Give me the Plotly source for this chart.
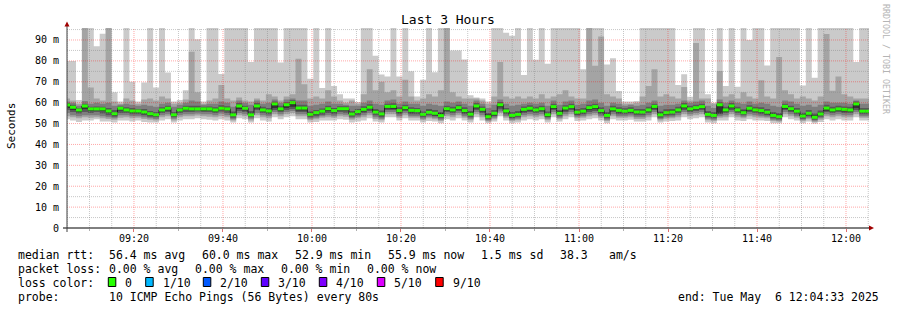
import pandas as pd
import plotly.graph_objects as go

# ---------------- data ----------------
# 136 steps of 80 s, starting 09:04:18
median = [58.9,57.8,56.5,58.4,57.0,57.0,57.0,56.0,54.7,57.3,
          56.5,56.0,56.0,55.5,54.7,54.2,56.5,57.3,54.2,56.5,
          57.3,57.0,57.0,57.0,57.0,56.5,57.3,57.0,54.2,58.4,
          57.3,54.2,58.4,56.5,56.0,59.4,57.0,59.0,60.0,57.4,
          57.4,54.4,55.2,55.9,57.1,56.2,57.1,57.1,54.6,55.7,
          56.8,57.8,55.5,54.6,58.2,58.2,56.2,57.6,56.3,56.2,
          54.4,55.4,54.9,53.8,57.1,56.5,57.6,56.2,54.5,58.4,
          56.8,53.3,54.9,59.0,56.0,53.9,54.4,56.8,57.3,56.5,
          57.1,54.2,58.1,54.9,57.4,58.1,55.4,55.9,57.6,58.1,
          56.2,53.9,57.0,56.3,55.9,56.3,55.5,55.5,56.5,58.2,
          54.2,55.2,55.5,56.5,58.4,57.0,57.6,58.1,54.4,53.9,
          59.0,56.5,58.4,56.5,55.2,57.3,56.5,56.2,55.4,53.9,
          53.3,58.2,57.1,55.9,53.6,54.9,53.0,54.6,57.4,56.5,
          57.0,56.8,56.5,59.4,55.9,55.9]
mid2 = [57.5,56.5,55.5,57,56,56.3,56,55,53.8,56.2,
        55.8,55,55.2,54.5,53.8,53.5,55.8,56.3,53.5,55.8,
        56.5,56.2,56.5,56,56.3,55.7,56.5,56.2,55.2,57,
        56.3,55.2,57.2,55.8,55.2,57.5,56,57.5,58,56.3,
        56.3,55.3,54.3,55,56,55.3,56.2,56.3,55.5,54.8,
        55.8,56.8,56.5,53.8,57.2,57,55.2,56.6,55.3,55.5,
        53.6,56.3,53.8,55,56,55.6,56.6,55.2,55.5,57.2,
        55.8,54.3,53.9,57.8,55,53,55.3,55.8,56.2,55.6,
        56.2,53.3,57,56,56.3,57.2,54.5,54.9,56.5,57,
        55.2,54.8,56,55.3,55,55.3,54.6,56.3,55.6,57.2,
        55.3,54.3,56.4,55.6,57.3,56,56.6,57.2,55.3,54.8,
        54.8,55.5,57.3,55.6,56.2,56.2,55.6,55.3,54.5,54.8,
        54.2,57.1,56.1,55,54.5,54,54,55.4,56.1,55.5,
        56,55.8,55.6,57.5,55,55]
p7 = [59.8,59,57.5,59.5,58,58.2,58,57.5,56.5,58.2,
      57.8,57.5,57,57,56,55.5,57.8,58.5,55.5,57.5,
      58.5,58.5,58.5,58,58.2,57.8,58.8,58.3,55.8,59.8,
      58.5,56,59.8,58,57.5,60.5,58.5,60.2,61.2,59,
      59,55.8,56.5,57.2,58.5,57.5,58.3,58.3,56,57,
      58.3,59.2,57,56.2,59.5,59.7,57.8,59,57.8,57.5,
      55.8,57,56.5,55.5,58.5,58,59,57.8,56,59.8,
      58.2,55,56.5,60.3,57.5,55.5,56,58.2,58.8,58,
      58.5,55.8,59.5,56.5,58.8,59.5,57,57.5,59,59.5,
      57.8,55.5,58.5,57.8,57.3,57.8,57,57,58,59.5,
      55.8,56.8,57,58,59.8,58.5,59,59.5,56,55.5,
      60.2,58,59.8,58,56.8,58.8,58,57.8,57,55.5,
      55,59.5,58.5,57.5,55.2,56.5,54.8,56.2,59,58,
      58.5,58.2,58,60.5,57.5,57.5]
p4 = [56.5,55.5,54.8,55.5,55,55.5,54.8,54,53.2,55,
      55,54.5,54.5,54,53.2,53,55,55.5,53,55,
      55.5,55.5,55.8,55.5,55.5,55,55.8,55,52.8,56,
      55.5,53,56.5,55,54.5,56.5,55.5,56.5,57,55.5,
      55.5,53,53.5,54.2,55,54.5,55.5,55.2,53.2,54,
      55,56,54,53,56.5,56.5,54.5,56,54.5,54.5,
      53,54,53.5,52.5,55.5,55,56,54.5,53,56.5,
      55,52,53.5,56.8,54.5,52.5,53,55,55.5,55,
      55.5,53,56.5,53.5,55.5,56.5,54,54.5,55.5,56,
      54.5,52.5,55.5,54.5,54.5,54.8,54,54,55,56.5,
      52.8,53.8,54,55,56.5,55.5,56,56.5,53,52.5,
      54.5,55,56.5,55,54,55.5,55,54.5,54,52.5,
      52,56.5,55.5,54.5,52.3,53.5,51.8,53.2,55.5,55,
      55.5,55,55,56.5,54.5,54.5]
p8 = [60.5,60,58.5,60.8,59.5,60,59.5,60,58.5,59,
      59.5,59,58.5,59,58.5,58,59.5,60,58,59,
      60,61,60.5,59,59.5,59.5,60.5,60,58,61,
      60,59,61,59.5,60,61.5,60,61.5,62,61,
      61,58.5,59,59.5,60.5,59.5,59.5,59,58.5,58.5,
      60,61,59.5,59,61,61.5,59.5,60.5,59.5,59.5,
      58.5,59.5,59,58.5,60.5,60,60.5,59.5,58.5,61,
      59.5,57.5,59,61.5,59.5,58.5,59,59.5,60,59.5,
      60,58.5,61,59,60.5,61,59,59.5,61,61.5,
      60,58.5,60,59.5,58.5,59,58.5,59,60,61,
      58.5,59,59,59.5,61,60,60.5,61,58.5,57.5,
      61.5,60,61,60,59.5,60.5,59.5,60,59.5,58.5,
      58,61,60.5,59.5,58.5,59,58,59,60.5,60,
      60,60,59.5,61,59.5,59.5]
p3 = [55,54,53.5,54,54,54,53.5,53,52.5,54,
      54,53.5,53.5,53,52.5,52.2,54,54.5,52.3,54,
      54.5,54.5,54.8,54.5,54.5,54,54.8,54,52,55,
      54.5,52.3,55,54,53.5,55.5,54.5,55.5,56,54.5,
      54.5,52.3,52.8,53.5,54,53.5,54.5,54.2,52.5,53.2,
      54,55,53,52.3,55.5,55.5,53.5,55,53.5,53.5,
      52.3,53.2,52.8,51.8,54.5,54,55,53.5,52.3,55.5,
      54,51.5,52.8,55.8,53.5,51.8,52.3,54,54.5,54,
      54.5,52.3,55.5,52.8,54.5,55.5,53.2,53.5,54.5,55,
      53.5,51.8,54.5,53.5,53.5,53.8,53,53,54,55.5,
      52.2,53,53.2,54,55.5,54.5,55,55.5,52.3,51.8,
      53.5,54,55.5,54,53.2,54.5,54,53.5,53.2,51.8,
      51.5,55.5,54.5,53.5,51.8,52.8,51.3,52.5,54.5,54,
      54.5,54,54,55.5,53.5,53.5]
p9 = [62,61,59.5,100,67.3,62,61,100,60.5,59.5,
      62,61,59.5,61.5,62,61,63,62,59.5,60,
      61.5,84.4,65,59.5,61,62,68.5,62,61,62.5,
      61,60.5,62,61,64,63,61,63,64,81,
      68.8,62,63,62,66,63,61,60,61,59.5,
      64,76,66,70,65,66,63,71,63,61,
      62,64,63,66,100,65,63,62,62,62,
      61,59.5,63,79.5,63,62,63,62,63,62,
      64,62,63,64,66,63,62,62,100,77.7,
      91.7,64,63,62,59.5,59.5,60,63,68,76,
      63,64,63,62,67.5,61,88.5,62,62,59.5,
      75.1,63,64,62,65,63,62,70.7,63,62,
      81.8,66,64,62,63,62,61,63,92.9,65.7,
      72.5,64,63,62,62,62]
p2 = [53.5,53,52.5,53,52.8,53,52.5,52.2,51.8,52.8,
      53,52.5,52.8,52.2,51.8,51.5,53,53.5,51.5,53,
      53.5,53.5,53.8,53.5,53.2,53,53.5,53,51.5,54,
      53.5,51.5,54,53,52.5,54.5,53.5,54.5,55,53.5,
      53.5,51.6,52,52.8,53,52.8,53.5,53.2,51.8,52.5,
      53,54,52.2,51.6,54.5,54.5,52.8,54,52.8,52.8,
      51.6,52.5,52,51.2,53.5,53,54,52.8,51.6,54.5,
      53,51,52,55,52.8,51.2,51.6,53,53.5,53,
      53.5,51.6,54.5,52,53.5,54.5,52.5,52.8,53.5,54,
      52.8,51.2,53.5,52.8,52.8,53,52.2,52.2,53,54.5,
      51.5,52.3,52.5,53,54.5,53.5,54,54.5,51.6,51.2,
      52.8,53,54.5,53,52.5,53.5,53,52.8,52.5,51.2,
      51,54.5,53.5,52.8,51.2,52,50.8,51.8,53.5,53,
      53.5,53,53,54.5,52.8,52.8]
p1 = [52,51.5,50.8,51.5,51.5,52,51,51,50.5,51.5,
      51.5,51,51.5,50.8,50.5,50.5,51.5,52,50.5,51.5,
      52,52,52.5,52,51.8,51.5,52,51.5,50.5,52.5,
      52,50.5,52.5,51.5,51,53,52,53,53.5,52,
      52,50.5,50.8,51.5,51.5,51.5,52,51.8,50.5,51,
      51.5,52.5,51,50.5,53,53,51.5,52.5,51.5,51.5,
      50.5,51.2,51,50.2,52,51.5,52.5,51.5,50.5,53,
      51.5,50.2,51,53.5,51.5,50.2,50.5,51.5,52,51.5,
      52,50.5,53,51,52,53,51.2,51.5,52,52.5,
      51.5,50.2,52,51.5,51.5,51.8,51,51,51.5,53,
      50.5,51,51.2,51.5,53,52,52.5,53,50.5,50.2,
      51.5,51.5,53,51.5,51.2,52,51.5,51.5,51.2,50.2,
      50.2,53,52,51.5,50.2,51,50,50.8,52,51.5,
      52,51.5,51.5,53,51.5,51.5]
p10 = [80,80,61.3,100,100,87,93,100,65,60.5,
       100,70,60.5,69.6,100,67.3,100,74.4,60.5,61.3,
       66,100,90.3,60.5,100,100,73.7,100,100,100,
       100,79.5,100,100,100,100,79.2,100,100,100,
       100,71.5,100,67,100,68,64,62,62,60.3,
       100,100,82.5,73.5,72.5,100,72.5,100,75,63,
       71,100,74.6,100,100,85,85,80.7,63.5,62.5,
       62,60.5,100,100,93.5,92,100,73.3,100,80.5,
       100,78.6,100,100,100,100,100,76,100,100,
       100,78.3,81.3,65.6,60.5,60.5,60.8,100,100,100,
       100,100,100,68.4,73.6,62.8,100,100,64,60,
       100,68,100,67.6,100,90,100,100,77.8,100,
       100,100,100,100,68.2,100,71.9,100,100,100,
       100,100,100,79.5,100,100]

y_ticks = [0, 10, 20, 30, 40, 50, 60, 70, 80, 90]
y_tick_text = ["0", "10 m", "20 m", "30 m", "40 m", "50 m", "60 m", "70 m", "80 m", "90 m"]
x_ticks = ["2025-05-06 09:20", "2025-05-06 09:40", "2025-05-06 10:00", "2025-05-06 10:20",
           "2025-05-06 10:40", "2025-05-06 11:00", "2025-05-06 11:20", "2025-05-06 11:40",
           "2025-05-06 12:00"]
x_tick_text = ["09:20", "09:40", "10:00", "10:20", "10:40", "11:00", "11:20", "11:40", "12:00"]

loss_labels = ["0", "1/10", "2/10", "3/10", "4/10", "5/10", "9/10"]
loss_colors = ["#26ff00", "#00b8ff", "#0059ff", "#5e00ff", "#7e00ff", "#dd00ff", "#ff0000"]

# ---------------- geometry ----------------
W, H = 897, 310
L, R, T, B = 67, 28, 28, 82
PW, PH = W - L - R, H - T - B
Y_MAX = 95.74
X_RANGE = ["2025-05-06 09:04:57", "2025-05-06 12:05:10"]
FONT = "DejaVu Sans Mono"


def px(x):
    return (x - L) / PW


def py(y):
    return (H - B - y) / PH


edges = pd.date_range("2025-05-06 09:04:18", periods=len(median) + 1, freq="80s")


def step(vals):
    return list(vals) + [vals[-1]]


fig = go.Figure()


def band(lo, hi, color):
    fig.add_trace(go.Scatter(x=edges, y=step(lo), mode="lines",
                             line=dict(width=0, shape="hv"), hoverinfo="skip"))
    fig.add_trace(go.Scatter(x=edges, y=step(hi), mode="lines",
                             line=dict(width=0, shape="hv"), fill="tonexty",
                             fillcolor=color, hoverinfo="skip"))


band(p1, p10, "#cacaca")
band(p2, p9, "#a4a4a4")
band(p3, p8, "#7e7e7e")
band(p4, p7, "#585858")
band(mid2, median, "#323232")

# thin dark median line (with vertical connectors)
fig.add_trace(go.Scatter(x=edges, y=step(median), mode="lines",
                         line=dict(width=1, shape="hv", color="#202020"), hoverinfo="skip"))
# loss-coloured median bars
gx, gy = [], []
for i, m in enumerate(median):
    gx += [edges[i], edges[i + 1], None]
    gy += [m, m, None]
fig.add_trace(go.Scatter(x=gx, y=gy, mode="lines",
                         line=dict(width=3, color=loss_colors[0]), hoverinfo="skip"))

shapes = []
# grid (drawn above the data like rrdtool)
for v in range(5, 96, 5):
    major = v % 10 == 0
    shapes.append(dict(type="line", xref="paper", yref="y", x0=0, x1=1, y0=v, y1=v,
                       layer="above",
                       line=dict(width=1, dash="1px,1px",
                                 color="rgba(255,0,0,0.35)" if major else "rgba(130,130,130,0.45)")))
for t in pd.date_range("2025-05-06 09:05", "2025-05-06 12:05", freq="5min"):
    major = t.minute % 20 == 0
    shapes.append(dict(type="line", xref="x", yref="paper", x0=t, x1=t, y0=0, y1=1,
                       layer="above",
                       line=dict(width=1, dash="1px,1px",
                                 color="rgba(255,0,0,0.35)" if major else "rgba(130,130,130,0.45)")))
# axes with arrows
shapes.append(dict(type="line", xref="paper", yref="paper", x0=px(63), x1=px(870), y0=py(228), y1=py(228),
                   layer="above", line=dict(width=1, color="#000000")))
shapes.append(dict(type="line", xref="paper", yref="paper", x0=px(67), x1=px(67), y0=py(232), y1=py(24),
                   layer="above", line=dict(width=1, color="#404040")))
shapes.append(dict(type="path", xref="paper", yref="paper", layer="above",
                   path=f"M {px(869)} {py(225.5)} L {px(874)} {py(228)} L {px(869)} {py(230.5)} Z",
                   fillcolor="#a00000", line=dict(width=0)))
shapes.append(dict(type="path", xref="paper", yref="paper", layer="above",
                   path=f"M {px(64.5)} {py(26.5)} L {px(67)} {py(21.5)} L {px(69.5)} {py(26.5)} Z",
                   fillcolor="#a00000", line=dict(width=0)))

annotations = []


def text(x, y, s, size=11.5, anchor="left", color="#000000", angle=0):
    annotations.append(dict(xref="paper", yref="paper", x=px(x), y=py(y), text=s,
                            showarrow=False, xanchor=anchor, yanchor="middle",
                            textangle=angle,
                            font=dict(family=FONT, size=size, color=color)))


text(448, 20, "Last 3 Hours", size=13, anchor="center")
text(11, 126, "Seconds", size=11, anchor="center", angle=-90)
text(886, 59, "RRDTOOL / TOBI OETIKER", size=8.3, anchor="center", color="#b4b4b4", angle=90)

row1 = [(16, "median rtt:"), (107.3, "56.4 ms avg"), (200, "60.0 ms max"), (293.3, "52.9 ms min"),
        (386, "55.9 ms now"), (479.3, "1.5 ms sd"), (558.3, "38.3"), (607.3, "am/s")]
for x, s in row1:
    text(x, 255, s)
row2 = [(16, "packet loss:"), (107.3, "0.00 % avg"), (193.3, "0.00 % max"),
        (279.3, "0.00 % min"), (365.3, "0.00 % now")]
for x, s in row2:
    text(x, 269, s)
text(16, 283, "loss color:")
box_x = [108.3, 145.7, 203.3, 261.3, 319.3, 377.3, 435.7]
for bx, lab, col in zip(box_x, loss_labels, loss_colors):
    shapes.append(dict(type="rect", xref="paper", yref="paper",
                       x0=px(bx), x1=px(bx + 7.5), y0=py(286.5), y1=py(277.5),
                       fillcolor=col, line=dict(width=1, color="#000000")))
    text(bx + 15, 283, lab)
text(16, 297, "probe:")
text(107.3, 297, "10 ICMP Echo Pings (56 Bytes) every 80s")
text(881, 297, "end: Tue May  6 12:04:33 2025", anchor="right")

fig.update_layout(
    width=W, height=H,
    margin=dict(l=L, r=R, t=T, b=B, pad=0),
    paper_bgcolor="white", plot_bgcolor="white",
    showlegend=False, hovermode=False,
    shapes=shapes, annotations=annotations,
    xaxis=dict(type="date", range=X_RANGE, showgrid=False, zeroline=False, showline=False,
               tickvals=x_ticks, ticktext=x_tick_text,
               ticks="outside", ticklen=3, tickcolor="#e07070", tickwidth=1,
               ticklabelstandoff=-2,
               minor=dict(ticks="outside", ticklen=2, tickcolor="#b0b0b0", dtick=600000, showgrid=False),
               tickfont=dict(family=FONT, size=10, color="#000000")),
    yaxis=dict(range=[0, Y_MAX], showgrid=False, zeroline=False, showline=False,
               tickvals=y_ticks, ticktext=y_tick_text, ticks="",
               ticklabelstandoff=7,
               tickfont=dict(family=FONT, size=10, color="#000000")),
)

fig.write_html("out.html")
